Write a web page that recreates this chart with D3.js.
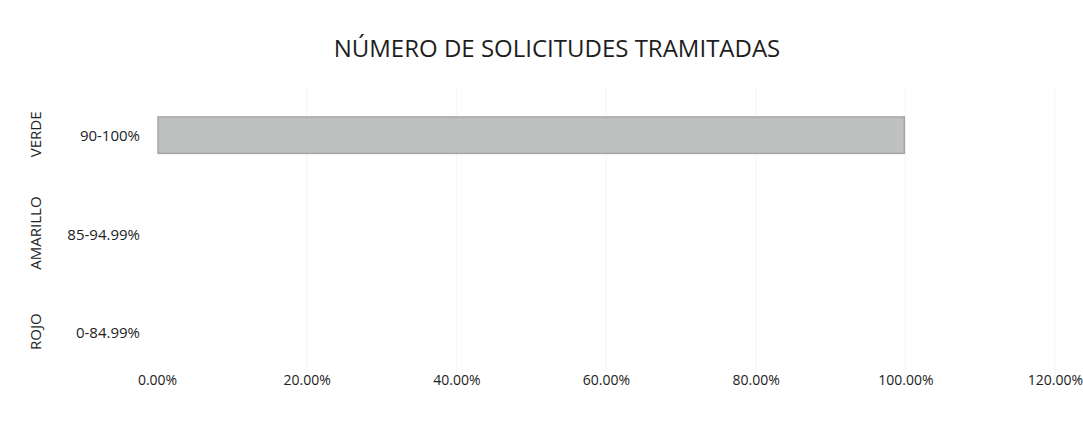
<!DOCTYPE html>
<html>
<head>
<meta charset="utf-8">
<script src="https://cdn.jsdelivr.net/npm/d3@7"></script>
<style>
  html, body { margin: 0; padding: 0; background: #fff; }
  svg { display: block; font-family: "Open Sans", "Noto Sans", sans-serif; }
</style>
</head>
<body>
<div id="chart"></div>
<script>
// data
const title = "NÚMERO DE SOLICITUDES TRAMITADAS";
const tiers = ["VERDE", "AMARILLO", "ROJO"];
const ranges = ["90-100%", "85-94.99%", "0-84.99%"];
const values = [1.0, 0, 0];
const xTicks = [0, 0.2, 0.4, 0.6, 0.8, 1.0, 1.2];

const width = 1083, height = 422;
const margin = { top: 87, right: 30, bottom: 40, left: 157 };

const svg = d3.select("#chart").append("svg")
  .attr("width", width)
  .attr("height", height);

const x = d3.scaleLinear().domain([0, 1.2]).range([margin.left, 1055]);
const y = d3.scaleBand().domain(tiers).range([margin.top, 383]).paddingInner(0.635).paddingOuter(0.3);
const yBand = d3.scaleBand().domain(tiers).range([margin.top, 383]);

// faint gridlines (scan barely shows them)
svg.append("g")
  .selectAll("line")
  .data(xTicks.slice(1))
  .join("line")
  .attr("x1", d => x(d)).attr("x2", d => x(d))
  .attr("y1", margin.top).attr("y2", 383)
  .attr("stroke", "#f5f5f5")
  .attr("stroke-width", 1);

// bars
svg.append("g")
  .selectAll("rect")
  .data(tiers.map((t, i) => ({ t, v: values[i] })).filter(d => d.v > 0))
  .join("rect")
  .attr("x", x(0) + 1)
  .attr("y", d => y(d.t))
  .attr("width", d => x(d.v) - x(0) - 2)
  .attr("height", y.bandwidth())
  .attr("fill", "#bfc1c1")
  .attr("stroke", "#a4a6a6")
  .attr("stroke-width", 1.5);

// x axis labels
const xAxis = d3.axisBottom(x)
  .tickValues(xTicks)
  .tickFormat(d => (d * 100).toFixed(2) + "%")
  .tickSize(0)
  .tickPadding(0);

const xg = svg.append("g")
  .attr("transform", `translate(0, 375)`)
  .call(xAxis);
xg.select(".domain").remove();
xg.selectAll("text")
  .attr("font-size", 14)
  .attr("font-family", "Open Sans, Noto Sans, sans-serif")
  .attr("fill", "#222");

// range labels (inner y axis)
const yAxis = d3.axisLeft(yBand)
  .tickFormat((d, i) => ranges[i])
  .tickSize(0)
  .tickPadding(17);
const yg = svg.append("g")
  .attr("transform", `translate(${margin.left}, 0)`)
  .call(yAxis);
yg.select(".domain").remove();
yg.selectAll("text")
  .attr("font-size", 15)
  .attr("font-family", "Open Sans, Noto Sans, sans-serif")
  .attr("fill", "#222");

// tier labels, rotated
svg.append("g")
  .selectAll("text")
  .data(tiers)
  .join("text")
  .attr("transform", d => `translate(41, ${yBand(d) + yBand.bandwidth() / 2 - 2}) rotate(-90)`)
  .attr("text-anchor", "middle")
  .attr("font-size", 15)
  .attr("fill", "#222")
  .text(d => d);

// title
svg.append("text")
  .attr("x", 557)
  .attr("y", 57)
  .attr("text-anchor", "middle")
  .attr("font-size", 24)
  .attr("fill", "#1e1e1e")
  .text(title);
</script>
</body>
</html>
